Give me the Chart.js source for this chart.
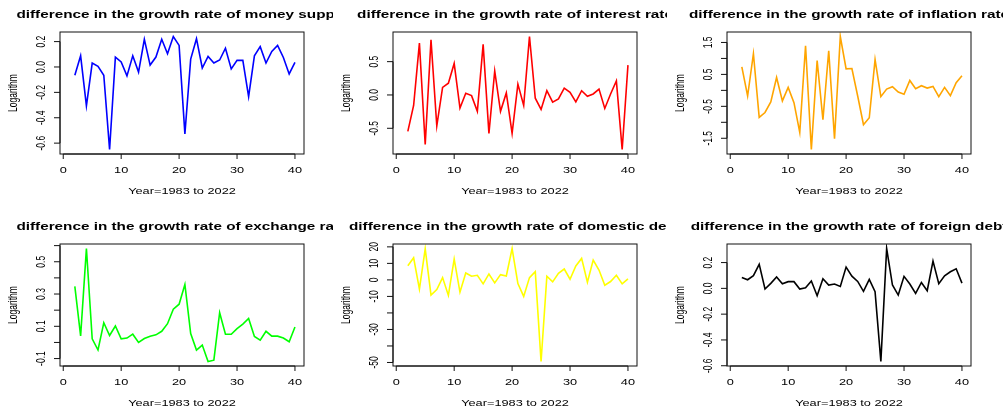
<!DOCTYPE html>
<html><head><meta charset="utf-8">
<script src="https://cdn.jsdelivr.net/npm/chart.js@4.4.1/dist/chart.umd.min.js"></script>
<style>
html,body{margin:0;padding:0;background:#fff;overflow:hidden;width:1003px;height:409px;}
#wrap{position:relative;width:1003px;height:409px;overflow:hidden;background:#fff;}
canvas.p{position:absolute;display:block;}
</style></head><body><div id="wrap"></div>
<script>
// ---------- data ----------
const years = [2,3,4,5,6,7,8,9,10,11,12,13,14,15,16,17,18,19,20,21,22,23,24,25,26,27,28,29,30,31,32,33,34,35,36,37,38,39,40];

const moneySupply = [-0.065,0.088,-0.306,0.031,0.005,-0.065,-0.65,0.078,0.04,-0.07,0.088,-0.04,0.218,0.015,0.078,0.218,0.104,0.24,0.17,-0.527,0.062,0.223,-0.008,0.083,0.031,0.055,0.148,-0.015,0.052,0.052,-0.234,0.088,0.16,0.031,0.122,0.17,0.075,-0.055,0.036];
const interestRate = [-0.547,-0.158,0.778,-0.744,0.828,-0.463,0.113,0.177,0.473,-0.197,0.025,-0.01,-0.246,0.759,-0.576,0.36,-0.246,0.03,-0.576,0.163,-0.158,0.877,-0.049,-0.217,0.064,-0.108,-0.059,0.103,0.039,-0.103,0.064,-0.02,0.015,0.089,-0.202,0.015,0.212,-0.818,0.448];
const inflationRate = [0.734,-0.176,1.148,-0.848,-0.693,-0.362,0.403,-0.331,0.093,-0.383,-1.313,1.396,-1.851,0.931,-0.92,1.241,-1.51,1.686,0.672,0.683,-0.176,-1.075,-0.858,0.962,-0.196,0.041,0.114,-0.052,-0.124,0.31,0.052,0.145,0.072,0.124,-0.196,0.093,-0.165,0.238,0.455];
const exchangeRate = [0.347,0.041,0.582,0.022,-0.047,0.122,0.043,0.102,0.022,0.027,0.051,0.0,0.024,0.039,0.047,0.069,0.116,0.206,0.237,0.359,0.055,-0.047,-0.016,-0.118,-0.11,0.184,0.051,0.051,0.086,0.114,0.149,0.037,0.014,0.069,0.039,0.039,0.027,0.004,0.096];
const domesticDebt = [8.6,13.4,-5.6,18.8,-9.2,-5.8,1.4,-9.4,12.6,-7.4,4.2,2.2,2.8,-2.4,3.6,-1.8,3.2,2.4,19.0,-2.2,-10,1.4,5.0,-49.4,2.2,-1.2,4.0,6.6,0.4,8.4,13.0,-1.4,12.0,6.0,-3.2,-1.0,2.8,-2.4,0.6];
const foreignDebt = [0.085,0.067,0.098,0.186,-0.005,0.039,0.088,0.036,0.052,0.052,-0.005,0.005,0.057,-0.057,0.075,0.026,0.034,0.015,0.165,0.095,0.054,-0.023,0.07,-0.026,-0.567,0.309,0.026,-0.052,0.093,0.034,-0.039,0.046,-0.018,0.211,0.036,0.098,0.129,0.152,0.041];

const titles = [
  "difference in the growth rate of money supply",
  "difference in the growth rate of interest rate",
  "difference in the growth rate of inflation rate",
  "difference in the growth rate of exchange rate",
  "difference in the growth rate of domestic debt",
  "difference in the growth rate of foreign debt"
];
const xAxisTitle = "Year=1983 to 2022";
const yAxisTitle = "Logarithm";
const xRange = [-0.56, 41.56];
const xTicks = [0,10,20,30,40];
const xTickLabels = ["0","10","20","30","40"];

const yTicksMoney = [-0.6,-0.4,-0.2,0,0.2];
const yLabelsMoney = ["-0.6","-0.4","-0.2","0.0","0.2"];
const yTicksInterest = [-0.5,0,0.5];
const yLabelsInterest = ["-0.5","0.0","0.5"];
const yTicksInflation = [-1.5,-1,-0.5,0,0.5,1,1.5];
const yLabelsInflation = ["-1.5","","-0.5","","0.5","","1.5"];
const yTicksExchange = [-0.1,0,0.1,0.2,0.3,0.4,0.5,0.6];
const yLabelsExchange = ["-0.1","","0.1","","0.3","","0.5",""];
const yTicksDomestic = [-50,-40,-30,-20,-10,0,10,20];
const yLabelsDomestic = ["-50","","-30","","-10","0","10","20"];
const yTicksForeign = [-0.6,-0.4,-0.2,0,0.2];
const yLabelsForeign = ["-0.6","-0.4","-0.2","0.0","0.2"];

const colors = ["#0000ff","#ff0000","#ffa500","#00ff00","#ffff00","#000000"];

// ---------- layout ----------
const colLeft = [0, 333, 667];
const colWidth = [333, 334, 336];
const rowTop = [0, 212];
const H = 212;
const AREA = {left: 60, top: 32, right: 304, bottom: 154};

const STRETCH = 1.5;
const BASE = 8.5;
const FONT = '"Liberation Sans", Arial, Helvetica, sans-serif';

function txt(ctx, s, x, y, size, bold, rot) {
  ctx.save();
  ctx.translate(x, y);
  ctx.scale(STRETCH, 1);
  if (rot) ctx.rotate(-Math.PI / 2);
  ctx.font = (bold ? 'bold ' : '') + size + 'px ' + FONT;
  ctx.textAlign = 'center';
  ctx.textBaseline = 'alphabetic';
  ctx.fillStyle = '#000';
  ctx.fillText(s, 0, 0);
  ctx.restore();
}

const rStyle = {
  id: 'rStyle',
  afterDraw(chart, args, o) {
    const ctx = chart.ctx, a = chart.chartArea, xs = chart.scales.x, ys = chart.scales.y;
    ctx.save();
    ctx.strokeStyle = '#111';
    ctx.lineWidth = 1;
    ctx.strokeRect(a.left, a.top, a.right - a.left, a.bottom - a.top);
    ctx.beginPath();
    const x0 = xs.getPixelForValue(xTicks[0]), x1 = xs.getPixelForValue(xTicks[xTicks.length - 1]);
    ctx.moveTo(x0, a.bottom); ctx.lineTo(x1, a.bottom);
    xTicks.forEach(t => { const p = xs.getPixelForValue(t); ctx.moveTo(p, a.bottom); ctx.lineTo(p, a.bottom + 5); });
    const y0 = ys.getPixelForValue(o.yTicks[0]), y1 = ys.getPixelForValue(o.yTicks[o.yTicks.length - 1]);
    ctx.moveTo(a.left, y0); ctx.lineTo(a.left, y1);
    o.yTicks.forEach(t => { const p = ys.getPixelForValue(t); ctx.moveTo(a.left - 6, p); ctx.lineTo(a.left, p); });
    ctx.stroke();
    ctx.restore();
    xTicks.forEach((t, i) => txt(ctx, xTickLabels[i], xs.getPixelForValue(t), a.bottom + 19, BASE, false, false));
    o.yTicks.forEach((t, i) => { if (o.yLabels[i]) txt(ctx, o.yLabels[i], a.left - 15, ys.getPixelForValue(t), BASE, false, true); });
    const cx = (a.left + a.right) / 2, cy = (a.top + a.bottom) / 2;
    txt(ctx, o.title, cx, 17.5, BASE * 1.2, true, false);
    txt(ctx, xAxisTitle, cx, a.bottom + 39.5, BASE, false, false);
    txt(ctx, yAxisTitle, 16.5, cy, BASE, false, true);
  }
};

const panels = [
  {vals: moneySupply, yt: yTicksMoney, yl: yLabelsMoney},
  {vals: interestRate, yt: yTicksInterest, yl: yLabelsInterest},
  {vals: inflationRate, yt: yTicksInflation, yl: yLabelsInflation},
  {vals: exchangeRate, yt: yTicksExchange, yl: yLabelsExchange},
  {vals: domesticDebt, yt: yTicksDomestic, yl: yLabelsDomestic},
  {vals: foreignDebt, yt: yTicksForeign, yl: yLabelsForeign}
];

const wrap = document.getElementById('wrap');
panels.forEach((p, i) => {
  const col = i % 3, row = Math.floor(i / 3);
  const W = colWidth[col];
  const cv = document.createElement('canvas');
  cv.className = 'p';
  cv.width = W; cv.height = H;
  cv.style.left = colLeft[col] + 'px';
  cv.style.top = rowTop[row] + 'px';
  cv.style.width = W + 'px'; cv.style.height = H + 'px';
  wrap.appendChild(cv);
  const mn = Math.min(...p.vals), mx = Math.max(...p.vals), rg = mx - mn;
  new Chart(cv, {
    type: 'line',
    data: {
      datasets: [{
        data: years.map((y, k) => ({x: y, y: p.vals[k]})),
        borderColor: colors[i],
        borderWidth: 1.6,
        pointRadius: 0,
        tension: 0,
        fill: false
      }]
    },
    options: {
      responsive: false,
      animation: false,
      devicePixelRatio: 1,
      events: [],
      layout: {padding: {left: AREA.left, top: AREA.top, right: W - AREA.right, bottom: H - AREA.bottom}},
      scales: {
        x: {type: 'linear', display: false, min: xRange[0], max: xRange[1]},
        y: {type: 'linear', display: false, min: mn - 0.04 * rg, max: mx + 0.04 * rg}
      },
      plugins: {
        legend: {display: false},
        tooltip: {enabled: false},
        title: {display: false},
        rStyle: {title: titles[i], yTicks: p.yt, yLabels: p.yl}
      }
    },
    plugins: [rStyle]
  });
});
</script>
</body></html>
